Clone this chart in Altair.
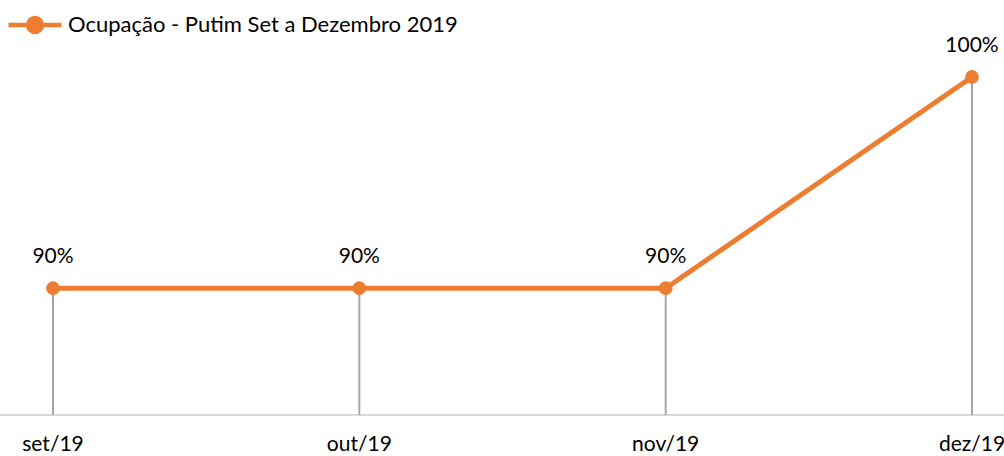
import altair as alt
import pandas as pd

# Monthly occupancy series
months = ["set/19", "out/19", "nov/19", "dez/19"]
occupancy = [90, 90, 90, 100]
series_name = "Ocupação - Putim Set a Dezembro 2019"

df = pd.DataFrame({
    "idx": list(range(len(months))),
    "mes": months,
    "ocupacao": occupancy,
    "serie": [series_name] * len(months),
})
df["rotulo"] = df["ocupacao"].astype(str) + "%"

W, H = 919, 338
ORANGE = "#ED7D31"
FONT = "Lato"
FS = 21

x = alt.X("idx:Q", scale=alt.Scale(domain=[0, 3]), axis=None)
y = alt.Y("ocupacao:Q", scale=alt.Scale(domain=[84, 100]), axis=None)

base = alt.Chart(df)

# horizontal category axis line across the whole width
axis_line = base.mark_rule(color="#D9D9D9", strokeWidth=2).encode(
    x=alt.value(-53), x2=alt.value(W + 32), y=alt.value(H)
)

drop_lines = base.mark_rule(color="#A6A6A6", strokeWidth=2).encode(
    x=x, y=y, y2=alt.value(H)
)

legend_symbol = (
    "M -1 0 L 1 0 "
    "M 0.26 0 A 0.26 0.26 0 1 1 -0.26 0 A 0.26 0.26 0 1 1 0.26 0 Z"
)

color = alt.Color(
    "serie:N",
    scale=alt.Scale(range=[ORANGE]),
    legend=alt.Legend(
        title=None,
        orient="none",
        legendX=-47,
        legendY=-81,
        symbolType=legend_symbol,
        symbolSize=2809,
        symbolStrokeWidth=4.5,
        symbolFillColor=ORANGE,
        symbolStrokeColor=ORANGE,
        labelFont=FONT,
        labelFontSize=22,
        labelColor="#000000",
        labelOffset=4,
        labelLimit=0,
    ),
)

line = base.mark_line(strokeWidth=5).encode(x=x, y=y, color=color)

points = base.mark_circle(size=190, opacity=1, color=ORANGE).encode(x=x, y=y)

value_labels = base.mark_text(
    font=FONT, fontSize=FS, color="#000000", dy=-31, baseline="middle"
).encode(x=x, y=y, text="rotulo:N")

month_labels = base.mark_text(
    font=FONT, fontSize=FS, color="#000000", baseline="middle"
).encode(x=x, y=alt.value(H + 30), text="mes:N")

chart = (
    alt.layer(axis_line, drop_lines, line, points, value_labels, month_labels)
    .properties(
        width=W,
        height=H,
        autosize=alt.AutoSizeParams(type="none"),
        padding={"left": 53, "top": 77, "right": 32, "bottom": 41},
        background="#FFFFFF",
    )
    .configure_view(stroke=None)
)

chart.save("out.html", embed_options={"renderer": "svg", "actions": False})
